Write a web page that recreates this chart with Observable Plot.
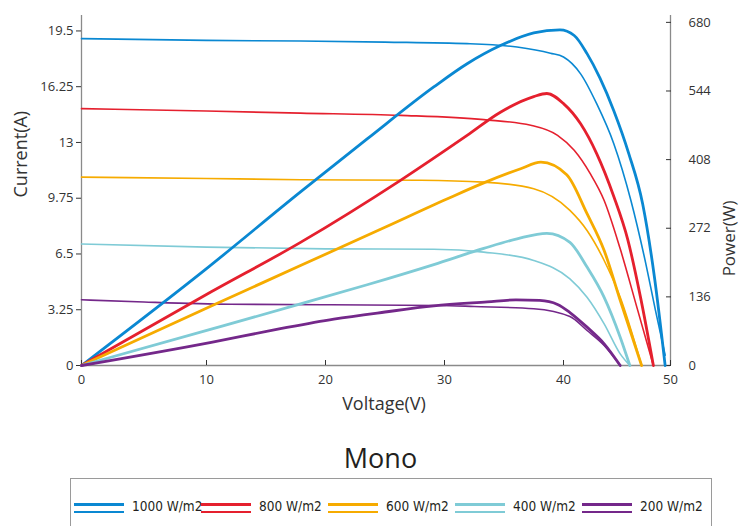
<!DOCTYPE html>
<html>
<head>
<meta charset="utf-8">
<script src="https://cdn.jsdelivr.net/npm/d3@7"></script>
<script src="https://cdn.jsdelivr.net/npm/@observablehq/plot@0.6"></script>
<style>
  html, body { margin: 0; padding: 0; background: #fff; }
  #wrap { position: relative; width: 742px; height: 526px; overflow: hidden; font-family: "Open Sans", sans-serif; }
  #chart { position: absolute; left: 0; top: 0; }
  #title { position: absolute; left: 0; width: 761px; top: 439px; text-align: center; font-family: "Open Sans", sans-serif; font-size: 27px; color: #231f20; }
  #legend { position: absolute; left: 70px; top: 478px; width: 642px; height: 60px; border: 1px solid #9a9a9a; box-sizing: border-box; }
  .item { position: absolute; top: 0; height: 48px; }
  .sw { position: absolute; left: 0; width: 50px; }
  .lab { position: absolute; left: 58px; top: 19px; white-space: nowrap; font-family: "DejaVu Sans Condensed", "DejaVu Sans", sans-serif; font-stretch: condensed; font-size: 13.5px; color: #231f20; }
</style>
</head>
<body>
<div id="wrap">
  <div id="chart"></div>
  <div id="title">Mono</div>
  <div id="legend"></div>
</div>
<script>
// ---------------- data ----------------
const irradiance = ["1000 W/m2", "800 W/m2", "600 W/m2", "400 W/m2", "200 W/m2"];
const colors = ["#0a88d2", "#e5202e", "#f6ab00", "#7fcbd6", "#74288a"];

const currentTicks = [0, 3.25, 6.5, 9.75, 13, 16.25, 19.5];
const powerTicks = [0, 136, 272, 408, 544, 680];
const voltageTicks = [0, 10, 20, 30, 40, 50];

// I-V curves (thin lines): voltage (V) and current (A)
const ivV1000 = [0, 10, 17.9, 25, 31.9, 36.1, 38.9, 40, 41.6, 43.1, 44.7, 46.3, 47.6, 48.6, 49.5];
const ivI1000 = [19.05, 18.95, 18.91, 18.85, 18.76, 18.56, 18.2, 17.98, 17.0, 15.26, 12.93, 9.62, 6.2, 3.2, 0.6];
const ivV800 = [0, 10, 17.9, 26.3, 33.3, 37.25, 39.5, 41.0, 42.5, 43.8, 45.3, 46.9, 48.4];
const ivI800 = [14.97, 14.83, 14.71, 14.58, 14.33, 14.0, 13.41, 12.54, 11.18, 9.62, 6.8, 3.3, 0];
const ivV600 = [0, 10, 17.9, 28, 33.3, 37.5, 40.6, 42.2, 43.8, 45.3, 47.3];
const ivI600 = [10.98, 10.9, 10.83, 10.8, 10.69, 10.3, 9.04, 7.87, 6.12, 3.98, 0];
const ivV400 = [0, 10, 20, 29.1, 33.3, 37.5, 40.6, 42.2, 43.8, 45.3, 46.2];
const ivI400 = [7.08, 6.9, 6.8, 6.78, 6.61, 6.12, 5.05, 3.98, 2.43, 0.68, 0];
const ivV200 = [0, 5, 12, 20, 29.5, 32.5, 37.5, 40.6, 42.2, 43.8, 45.3];
const ivI200 = [3.83, 3.7, 3.57, 3.54, 3.5, 3.44, 3.31, 2.85, 2.04, 1.17, 0];

// P-V curves (thick lines): voltage (V) and power (W)
const pvV1000 = [0, 10, 17.9, 23.5, 29.1, 31.9, 34.7, 37.5, 39.7, 41, 42.2, 43.4, 44.7, 46.1, 47.4, 48.5, 49.5];
const pvP1000 = [0, 192, 344, 449, 552, 598, 634, 659, 665, 654, 618, 570, 505, 420, 320, 175, 0];
const pvV800 = [0, 10.4, 17.9, 26.3, 31.9, 34.7, 37.5, 38.6, 40, 41.6, 43.1, 44.7, 46.0, 47.2, 48.4];
const pvP800 = [0, 146, 244, 367, 456, 502, 533, 539, 519, 479, 420, 335, 250, 135, 0];
const pvV600 = [0, 10.4, 17.9, 25, 30.2, 33.3, 36.4, 38.1, 40.3, 42.2, 43.8, 45.3, 47.3];
const pvP600 = [0, 118, 198, 274, 330, 362, 390, 403, 378, 301, 228, 129, 0];
const pvV400 = [0, 10.4, 17.9, 23.5, 29.1, 33.3, 36.1, 38.6, 40.6, 42.2, 43.8, 45.3, 46.2];
const pvP400 = [0, 72, 122, 160, 200, 232, 251, 262, 244, 195, 135, 56, 0];
const pvV200 = [0, 10.4, 16, 20.7, 25, 29.1, 33.6, 36, 38, 39.5, 40.6, 42.2, 43.8, 45.3];
const pvP200 = [0, 46, 72, 92, 106, 118, 126, 130, 129, 121, 105, 76, 43, 0];

// ---------------- build tables ----------------
const ivV = [ivV1000, ivV800, ivV600, ivV400, ivV200];
const ivI = [ivI1000, ivI800, ivI600, ivI400, ivI200];
const pvV = [pvV1000, pvV800, pvV600, pvV400, pvV200];
const pvP = [pvP1000, pvP800, pvP600, pvP400, pvP200];

const ivRows = irradiance.flatMap((s, k) => ivV[k].map((v, i) => ({s, v, i: ivI[k][i]})));
const pvRows = irradiance.flatMap((s, k) => pvV[k].map((v, i) => ({s, v, p: pvP[k][i]})));

const K = 680 / 20; // watts per amp on the shared vertical scale
const axisColor = "#8a8a8a";
const textColor = "#333";

const chart = Plot.plot({
  width: 742,
  height: 420,
  marginTop: 15,
  marginBottom: 55,
  marginLeft: 81,
  marginRight: 72,
  style: {fontFamily: "'Open Sans', sans-serif", fontSize: "13px", color: textColor, background: "#fff"},
  x: {type: "linear", domain: [0, 10, 40, 50], range: [81, 206, 563, 670]},
  y: {domain: [0, 20.4]},
  color: {domain: irradiance, range: colors},
  marks: [
    Plot.ruleX([0, 50], {stroke: axisColor, strokeWidth: 1.3}),
    Plot.ruleY([0], {stroke: axisColor, strokeWidth: 1.3}),
    Plot.axisY({ticks: currentTicks, tickFormat: d => String(d), tickSize: 5, tickPadding: 3, label: null, fontSize: 13}),
    Plot.axisY({anchor: "right", ticks: powerTicks.map(p => p / K), tickFormat: d => String(Math.round(d * K)), tickSize: -5, tickPadding: 23, label: null, fontSize: 13}),
    Plot.axisX({ticks: voltageTicks, tickFormat: d => String(d), tickSize: -5, tickPadding: 14, label: null, fontSize: 13}),
    Plot.line(ivRows, {x: "v", y: "i", stroke: "s", strokeWidth: 1.6, curve: "monotone-x"}),
    Plot.line(pvRows, {x: "v", y: d => d.p / K, stroke: "s", strokeWidth: 2.8, curve: "monotone-x"}),
    Plot.text(["Current(A)"], {frameAnchor: "left", rotate: -90, dx: -60, dy: 7, fontSize: 18, fill: textColor}),
    Plot.text(["Power(W)"], {frameAnchor: "right", rotate: -90, dx: 59, dy: 10, fontSize: 17, fill: textColor}),
    Plot.text(["Voltage(V)"], {frameAnchor: "bottom", dx: 8, dy: 44, fontSize: 18, fill: textColor})
  ]
});
document.getElementById("chart").appendChild(chart);

// ---------------- legend ----------------
const legend = document.getElementById("legend");
irradiance.forEach((s, k) => {
  const item = document.createElement("div");
  item.className = "item";
  item.style.left = (3 + k * 127) + "px";
  item.innerHTML =
    `<div class="sw" style="top:24px;height:3px;background:${colors[k]}"></div>` +
    `<div class="sw" style="top:32px;height:1.5px;background:${colors[k]}"></div>` +
    `<div class="lab">${s}</div>`;
  legend.appendChild(item);
});
</script>
</body>
</html>
